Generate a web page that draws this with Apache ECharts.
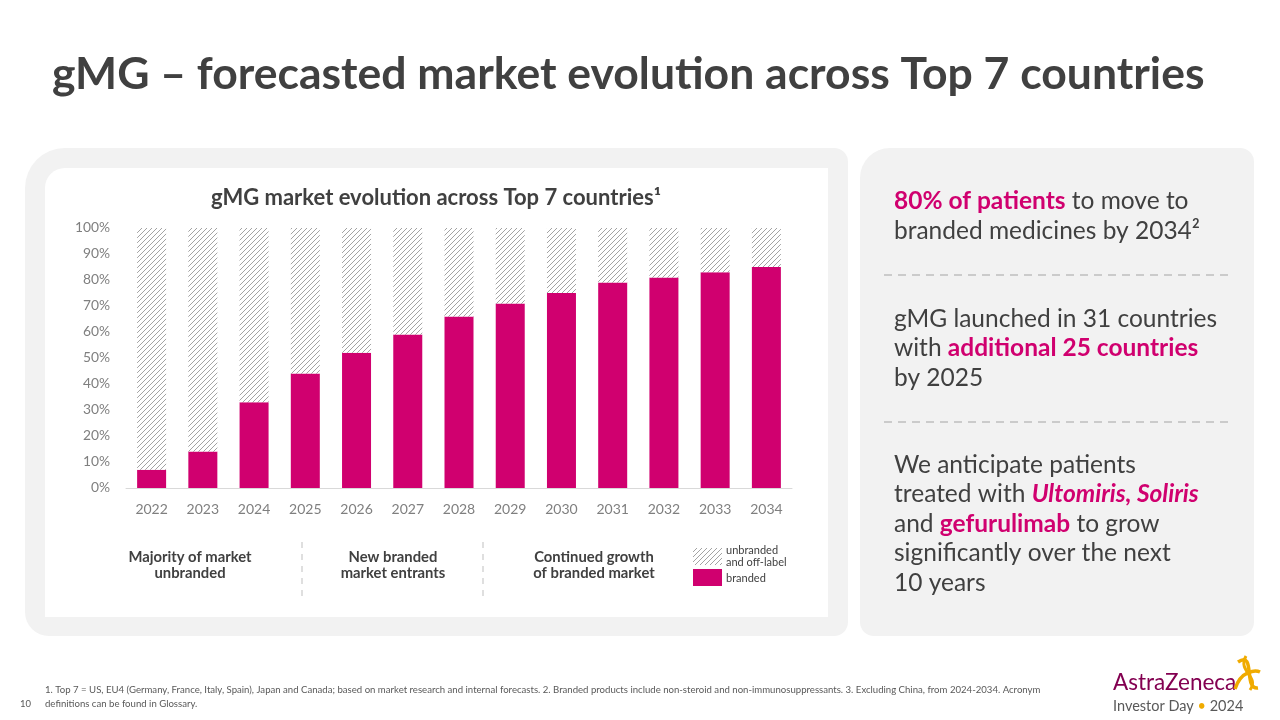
<!DOCTYPE html>
<html>
<head>
<meta charset="utf-8">
<script src="https://cdn.jsdelivr.net/npm/echarts@6/dist/echarts.min.js"></script>
<style>
html,body{margin:0;padding:0;background:#fff;}
#c{width:1280px;height:720px;}
</style>
</head>
<body>
<div id="c"></div>
<script>
// ---- data ----
const years = ['2022','2023','2024','2025','2026','2027','2028','2029','2030','2031','2032','2033','2034'];
const branded = [7, 14, 33, 44, 52, 59, 66, 71, 75, 79, 81, 83, 85];
const unbranded = [93, 86, 67, 56, 48, 41, 34, 29, 25, 21, 19, 17, 15];
const yTicks = [0,10,20,30,40,50,60,70,80,90,100];

const PINK = '#d0006f';
const DARK = '#404040';
const FONT = 'Lato, "Open Sans", sans-serif';

function makeHatch(){
  const s = 5;
  const c = document.createElement('canvas');
  c.width = s; c.height = s;
  const g = c.getContext('2d');
  g.fillStyle = '#ffffff'; g.fillRect(0,0,s,s);
  g.strokeStyle = '#a3a3a3'; g.lineWidth = 1;
  g.beginPath();
  g.moveTo(0,s); g.lineTo(s,0);
  g.moveTo(-1,1); g.lineTo(1,-1);
  g.moveTo(s-1,s+1); g.lineTo(s+1,s-1);
  g.stroke();
  return c;
}
const hatch = makeHatch();
const hatchFill = {image: hatch, repeat: 'repeat'};

const chart = echarts.init(document.getElementById('c'), null, {renderer:'canvas'});

const RP = 24.5; // right-panel font size
const GOLD = '#f0ab00';
const graphics = [
  // left panel
  {type:'rect', z:-10, shape:{x:25,y:148,width:823,height:488,r:[40,14,14,24]}, style:{fill:'#f2f2f2'}},
  {type:'rect', z:-9, shape:{x:45,y:168,width:783,height:449,r:[20,0,0,0]}, style:{fill:'#ffffff'}},
  // right panel
  {type:'rect', z:-10, shape:{x:860,y:148,width:394,height:488,r:[30,14,14,14]}, style:{fill:'#f2f2f2'}},
  // main title
  {type:'text', left:52, top:52, style:{text:'gMG – forecasted market evolution across Top 7 countries', font:'bold 44.5px '+FONT, fill:DARK}},
  // chart title
  {type:'text', style:{text:'gMG market evolution across Top 7 countries¹', x:436, y:198, align:'center', verticalAlign:'middle', font:'bold 22px '+FONT, fill:DARK}},
  // bottom phase labels
  {type:'text', style:{text:'Majority of market\nunbranded', x:190, y:565, align:'center', verticalAlign:'middle', font:'bold 14.8px '+FONT, lineHeight:15.5, fill:DARK}},
  {type:'text', style:{text:'New branded\nmarket entrants', x:393, y:565, align:'center', verticalAlign:'middle', font:'bold 14.8px '+FONT, lineHeight:15.5, fill:DARK}},
  {type:'text', style:{text:'Continued growth\nof branded market', x:594, y:565, align:'center', verticalAlign:'middle', font:'bold 14.8px '+FONT, lineHeight:15.5, fill:DARK}},
  {type:'line', shape:{x1:302,y1:542,x2:302,y2:597}, style:{stroke:'#bfbfbf', lineWidth:1, lineDash:[6,6]}},
  {type:'line', shape:{x1:483,y1:542,x2:483,y2:597}, style:{stroke:'#bfbfbf', lineWidth:1, lineDash:[6,6]}},
  // legend
  {type:'rect', shape:{x:693,y:548,width:29,height:17}, style:{fill:hatchFill}},
  {type:'text', style:{text:'unbranded\nand off-label', x:726, y:556, align:'left', verticalAlign:'middle', font:'11px '+FONT, lineHeight:12, fill:DARK}},
  {type:'rect', shape:{x:693,y:569,width:29,height:17}, style:{fill:PINK}},
  {type:'text', style:{text:'branded', x:726, y:578, align:'left', verticalAlign:'middle', font:'11px '+FONT, fill:DARK}},
  // right panel texts
  {type:'text', style:{
    x:894, y:186, align:'left', verticalAlign:'top',
    text:'{p|80% of patients}{n| to move to}\n{n|branded medicines by 2034²}',
    rich:{p:{font:'bold '+RP+'px '+FONT, fill:PINK, lineHeight:30}, n:{font:RP+'px '+FONT, fill:DARK, lineHeight:30}}
  }},
  {type:'line', shape:{x1:884,y1:275,x2:1230,y2:275}, style:{stroke:'#bfbfbf', lineWidth:1.5, lineDash:[8,6]}},
  {type:'text', style:{
    x:894, y:304, align:'left', verticalAlign:'top',
    text:'{n|gMG launched in 31 countries}\n{n|with }{p|additional 25 countries}\n{n|by 2025}',
    rich:{p:{font:'bold '+RP+'px '+FONT, fill:PINK, lineHeight:29.5}, n:{font:RP+'px '+FONT, fill:DARK, lineHeight:29.5}}
  }},
  {type:'line', shape:{x1:884,y1:422,x2:1230,y2:422}, style:{stroke:'#bfbfbf', lineWidth:1.5, lineDash:[8,6]}},
  {type:'text', style:{
    x:894, y:450, align:'left', verticalAlign:'top',
    text:'{n|We anticipate patients}\n{n|treated with }{i|Ultomiris, Soliris}\n{n|and }{p|gefurulimab}{n| to grow}\n{n|significantly over the next}\n{n|10 years}',
    rich:{p:{font:'bold '+RP+'px '+FONT, fill:PINK, lineHeight:29.5}, i:{font:'italic bold '+RP+'px '+FONT, fill:PINK, lineHeight:29.5}, n:{font:RP+'px '+FONT, fill:DARK, lineHeight:29.5}}
  }},
  // footnote
  {type:'text', style:{text:'1. Top 7 = US, EU4 (Germany, France, Italy, Spain), Japan and Canada; based on market research and internal forecasts. 2. Branded products include non-steroid and non-immunosuppressants. 3. Excluding China, from 2024-2034. Acronym\ndefinitions can be found in Glossary.', x:45, y:697, align:'left', verticalAlign:'middle', font:'9.6px '+FONT, lineHeight:14, fill:'#595959'}},
  {type:'text', style:{text:'10', x:20, y:704, align:'left', verticalAlign:'middle', font:'9.5px '+FONT, fill:'#595959'}},
  // logo
  {type:'text', style:{text:'AstraZeneca', x:1113, y:683, align:'left', verticalAlign:'middle', font:'22.5px '+FONT, fill:'#830051'}},
  {type:'text', style:{text:'{g|Investor Day }{d|•}{g| 2024}', x:1113, y:706, align:'left', verticalAlign:'middle',
    rich:{g:{font:'14.5px '+FONT, fill:'#595959'}, d:{font:'14.5px '+FONT, fill:GOLD}}}},
  {type:'bezierCurve', shape:{x1:1238,y1:662,x2:1258,y2:688,cpx1:1256,cpy1:650,cpx2:1243,cpy2:690}, style:{stroke:GOLD, lineWidth:3.5, fill:null}},
  {type:'bezierCurve', shape:{x1:1235,y1:689,x2:1260,y2:672,cpx1:1241,cpy1:670,cpx2:1256,cpy2:670}, style:{stroke:GOLD, lineWidth:3.5, fill:null}},
  {type:'bezierCurve', shape:{x1:1246,y1:656,x2:1250,y2:690,cpx1:1237,cpy1:672,cpx2:1260,cpy2:676}, style:{stroke:GOLD, lineWidth:3, fill:null}}
];

chart.setOption({
  animation:false,
  backgroundColor:'#ffffff',
  textStyle:{fontFamily:FONT},
  grid:{left:126, right:488, top:228, bottom:232},
  xAxis:{
    type:'category', data:years,
    axisLine:{lineStyle:{color:'#d9d9d9', width:1}},
    axisTick:{show:false},
    axisLabel:{color:'#7f7f7f', fontSize:14, margin:14, fontFamily:FONT}
  },
  yAxis:{
    type:'value', min:0, max:100, interval:10,
    axisLine:{show:false}, axisTick:{show:false}, splitLine:{show:false},
    axisLabel:{color:'#7f7f7f', fontSize:13.8, margin:16, fontFamily:FONT, formatter:function(v){return yTicks.indexOf(v)>=0 ? v+'%' : '';}}
  },
  series:[
    {name:'branded', type:'bar', stack:'s', data:branded, barWidth:29, itemStyle:{color:PINK}},
    {name:'unbranded and off-label', type:'bar', stack:'s', data:unbranded, barWidth:29, itemStyle:{color:hatchFill}}
  ],
  graphic:graphics
});
</script>
</body>
</html>
